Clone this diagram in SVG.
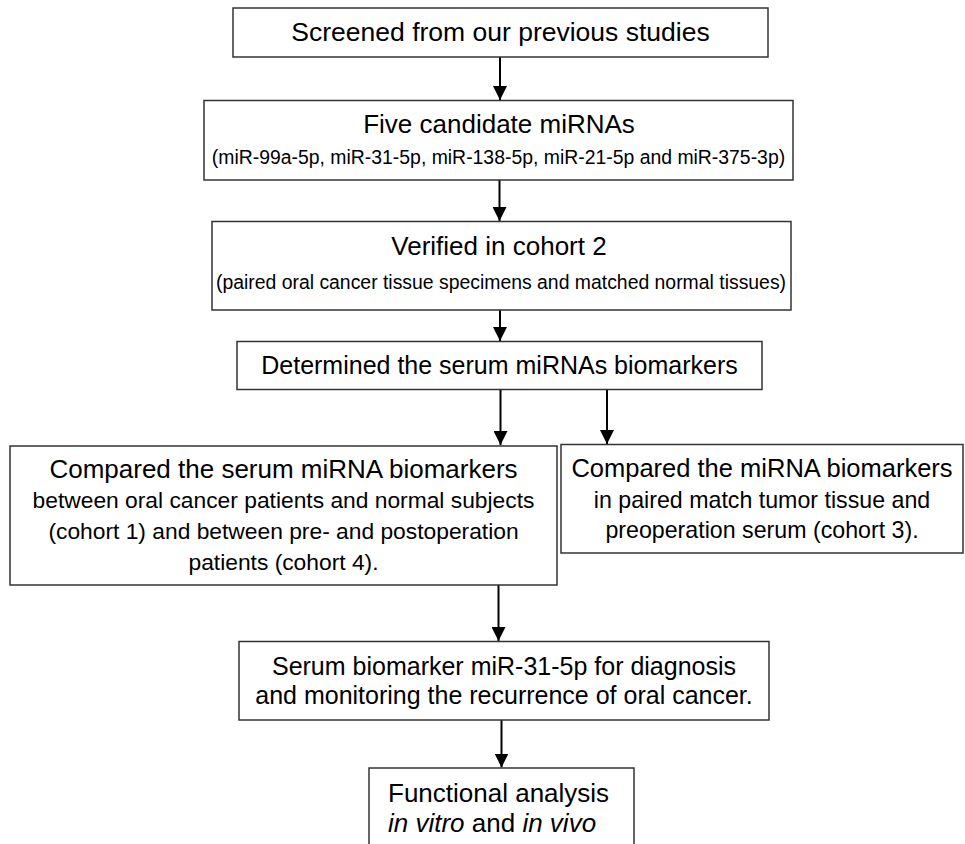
<svg xmlns="http://www.w3.org/2000/svg" width="965" height="844" viewBox="0 0 965 844">
<style>
.box{fill:#fff;stroke:#333;stroke-width:1.5}
text{font-family:"Liberation Sans",Arial,sans-serif;fill:#000;text-anchor:middle}
.t{font-size:26px}
.s{font-size:19.4px}
.m{font-size:22.8px}
.conn{stroke:#000;stroke-width:2;fill:none}
</style>
<defs>
<marker id="ah" viewBox="0 0 14 14" refX="14" refY="7" markerWidth="14" markerHeight="14" markerUnits="userSpaceOnUse" orient="auto">
<path d="M0,0 L14,7 L0,14 Z" fill="#000"/>
</marker>
</defs>
<rect width="965" height="844" fill="#fff"/>
<g id="connectors">
<line class="conn" x1="500" y1="57" x2="500" y2="100" marker-end="url(#ah)"/>
<line class="conn" x1="499.5" y1="180" x2="499.5" y2="221" marker-end="url(#ah)"/>
<line class="conn" x1="500" y1="310" x2="500" y2="341" marker-end="url(#ah)"/>
<line class="conn" x1="500.5" y1="389.5" x2="500.5" y2="445" marker-end="url(#ah)"/>
<line class="conn" x1="607" y1="389.5" x2="607" y2="444" marker-end="url(#ah)"/>
<line class="conn" x1="498.5" y1="585" x2="498.5" y2="641" marker-end="url(#ah)"/>
<line class="conn" x1="501.5" y1="720" x2="501.5" y2="767.5" marker-end="url(#ah)"/>
</g>
<g id="n1">
<rect class="box" x="233" y="8" width="535" height="49"/>
<text class="t" x="500.5" y="41" style="font-size:26.5px">Screened from our previous studies</text>
</g>
<g id="n2">
<rect class="box" x="204" y="100.5" width="589" height="79.5"/>
<text class="t" x="499" y="133">Five candidate miRNAs</text>
<text class="s" x="498.5" y="164">(miR-99a-5p, miR-31-5p, miR-138-5p, miR-21-5p and miR-375-3p)</text>
</g>
<g id="n3">
<rect class="box" x="212" y="221.5" width="579" height="88.5"/>
<text class="t" x="499" y="255">Verified in cohort 2</text>
<text class="s" x="501" y="289">(paired oral cancer tissue specimens and matched normal tissues)</text>
</g>
<g id="n4">
<rect class="box" x="237" y="341.5" width="525" height="48"/>
<text class="t" x="499.5" y="374" style="font-size:25px">Determined the serum miRNAs biomarkers</text>
</g>
<g id="n5">
<rect class="box" x="10" y="446" width="547" height="139"/>
<text class="t" x="283.5" y="478">Compared the serum miRNA biomarkers</text>
<text class="m" x="283.5" y="508">between oral cancer patients and normal subjects</text>
<text class="m" x="283.5" y="539">(cohort 1) and between pre- and postoperation</text>
<text class="m" x="283.5" y="570">patients (cohort 4).</text>
</g>
<g id="n6">
<rect class="box" x="561" y="444.5" width="402" height="108.5"/>
<text class="t" x="762" y="477" style="font-size:25.5px">Compared the miRNA biomarkers</text>
<text class="m" x="762" y="508" style="font-size:23.2px">in paired match tumor tissue and</text>
<text class="m" x="762" y="538" style="font-size:23.2px">preoperation serum (cohort 3).</text>
</g>
<g id="n7">
<rect class="box" x="239" y="641.5" width="530" height="78.5"/>
<text class="t" x="504" y="675" style="font-size:25px">Serum biomarker miR-31-5p for diagnosis</text>
<text class="t" x="504" y="704" style="font-size:25px">and monitoring the recurrence of oral cancer.</text>
</g>
<g id="n8">
<rect class="box" x="369" y="768" width="265" height="90"/>
<text class="t" x="388" y="802" style="text-anchor:start">Functional analysis</text>
<text class="t" x="388" y="832" style="text-anchor:start"><tspan font-style="italic">in vitro</tspan> and <tspan font-style="italic">in vivo</tspan></text>
</g>
</svg>
